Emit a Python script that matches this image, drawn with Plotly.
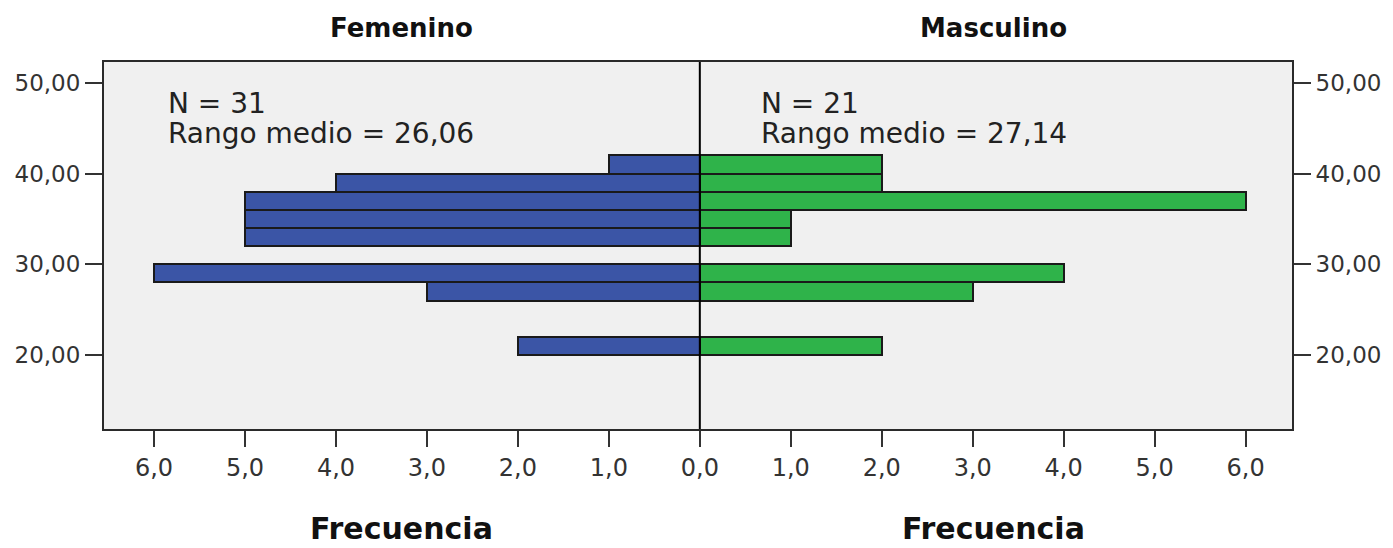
import plotly.graph_objects as go

# Age bins (centres of 2-unit bins) and frequencies
bin_centers = [21, 23, 25, 27, 29, 31, 33, 35, 37, 39, 41]
female_counts = [2, 0, 0, 3, 6, 0, 5, 5, 5, 4, 1]
male_counts = [2, 0, 0, 3, 4, 0, 1, 1, 6, 2, 2]
bin_width = 2

x_tick_vals = [-6, -5, -4, -3, -2, -1, 0, 1, 2, 3, 4, 5, 6]
x_tick_text = ["6,0", "5,0", "4,0", "3,0", "2,0", "1,0", "0,0", "1,0", "2,0", "3,0", "4,0", "5,0", "6,0"]
y_tick_vals = [20, 30, 40, 50]
y_tick_text = ["20,00", "30,00", "40,00", "50,00"]

panel_titles = ["Femenino", "Masculino"]
stats_n = ["N = 31", "N = 21"]
stats_rank = ["Rango medio = 26,06", "Rango medio = 27,14"]
axis_title = "Frecuencia"

FONT = "DejaVu Sans"
BLUE = "#3b55a6"
GREEN = "#2fb34a"
OUTLINE = "#1a1a1a"

fy = [c for c, v in zip(bin_centers, female_counts) if v > 0]
fx = [-v for v in female_counts if v > 0]
my = [c for c, v in zip(bin_centers, male_counts) if v > 0]
mx = [v for v in male_counts if v > 0]

fig = go.Figure()
fig.add_trace(go.Bar(orientation="h", y=fy, x=fx, width=bin_width,
                     marker=dict(color=BLUE, line=dict(color=OUTLINE, width=2)),
                     name="Femenino", showlegend=False))
fig.add_trace(go.Bar(orientation="h", y=my, x=mx, width=bin_width,
                     marker=dict(color=GREEN, line=dict(color=OUTLINE, width=2)),
                     name="Masculino", showlegend=False))
# invisible trace to activate right y axis
fig.add_trace(go.Scatter(x=[0], y=[30], yaxis="y2", mode="markers",
                         marker=dict(opacity=0), showlegend=False, hoverinfo="skip"))

yrange = [11.85, 52.3]
fig.update_layout(
    width=1393, height=548,
    margin=dict(l=104, r=92, t=62, b=119),
    paper_bgcolor="white", plot_bgcolor="#f0f0f0",
    barmode="overlay", bargap=0,
    font=dict(family=FONT, color="#222222"),
    xaxis=dict(range=[-6.55, 6.51], tickvals=x_tick_vals, ticktext=x_tick_text,
               ticks="outside", ticklen=16, tickwidth=2, tickcolor="#333333",
               tickfont=dict(family=FONT, size=24, color="#333333"),
               showgrid=False, zeroline=False, showline=True, mirror=True,
               linecolor="#2a2a2a", linewidth=2),
    yaxis=dict(range=yrange, tickvals=y_tick_vals, ticktext=y_tick_text,
               ticks="outside", ticklen=17, tickwidth=2, tickcolor="#333333",
               tickfont=dict(family=FONT, size=23, color="#333333"),
               showgrid=False, zeroline=False, showline=True, mirror=True,
               linecolor="#2a2a2a", linewidth=2),
    yaxis2=dict(range=yrange, tickvals=y_tick_vals, ticktext=y_tick_text,
                overlaying="y", side="right",
                ticks="outside", ticklen=17, tickwidth=2, tickcolor="#333333",
                tickfont=dict(family=FONT, size=23, color="#333333"),
                showgrid=False, zeroline=False, showline=True,
                linecolor="#2a2a2a", linewidth=2),
    shapes=[dict(type="line", xref="x", yref="paper", x0=0, x1=0, y0=0, y1=1,
                 line=dict(color="black", width=2), layer="above")],
)

annotations = []
for i, xc in enumerate([0.2501, 0.7487]):
    annotations.append(dict(text="<b>%s</b>" % panel_titles[i], xref="paper", yref="paper",
                            x=xc, y=1.092, xanchor="center", yanchor="middle", showarrow=False,
                            font=dict(family=FONT, size=26, color="#111111")))
    annotations.append(dict(text="<b>%s</b>" % axis_title, xref="paper", yref="paper",
                            x=xc, y=-0.2706, xanchor="center", yanchor="middle", showarrow=False,
                            font=dict(family=FONT, size=30, color="#111111")))
for i, xl in enumerate([0.0526, 0.5516]):
    annotations.append(dict(text=stats_n[i], xref="paper", yref="paper",
                            x=xl, y=0.886, xanchor="left", yanchor="middle", showarrow=False,
                            font=dict(family=FONT, size=28, color="#222222")))
    annotations.append(dict(text=stats_rank[i], xref="paper", yref="paper",
                            x=xl, y=0.804, xanchor="left", yanchor="middle", showarrow=False,
                            font=dict(family=FONT, size=28, color="#222222")))
fig.update_layout(annotations=annotations)

fig.write_html("out.html", config={"displayModeBar": False},
               post_script="document.body.style.margin='0px';document.body.style.overflow='hidden';")
